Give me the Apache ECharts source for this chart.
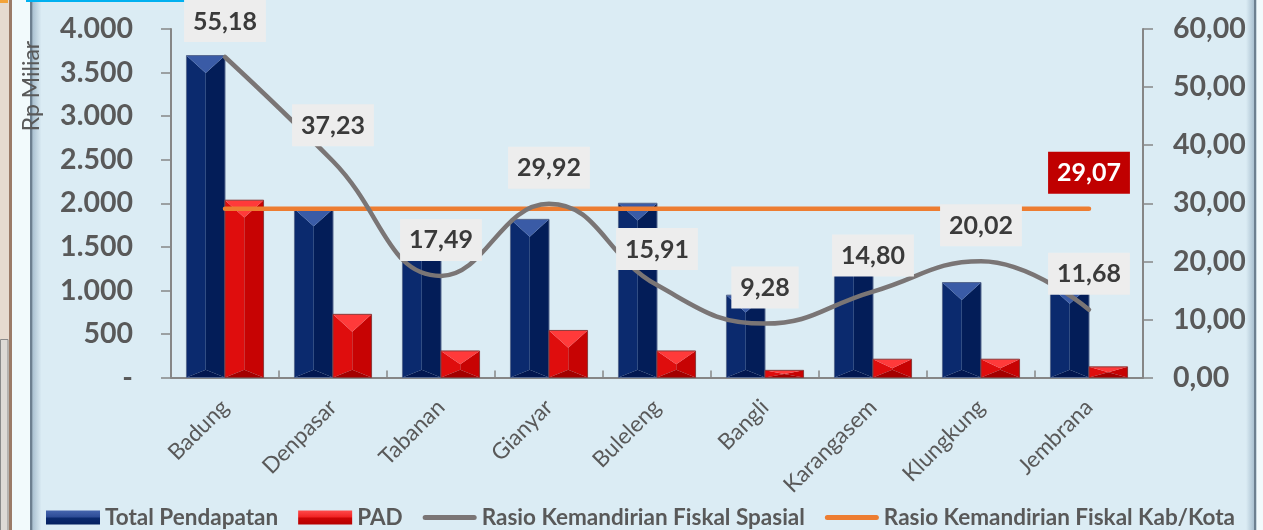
<!DOCTYPE html>
<html>
<head>
<meta charset="utf-8">
<script src="https://cdn.jsdelivr.net/npm/echarts@6/dist/echarts.min.js"></script>
<style>
  html, body { margin: 0; padding: 0; background: #dbecf4; }
  #chart { width: 1263px; height: 530px; }
</style>
</head>
<body>
<div id="chart"></div>
<script>
// Regencies / city of Bali
const categories = ['Badung', 'Denpasar', 'Tabanan', 'Gianyar', 'Buleleng', 'Bangli', 'Karangasem', 'Klungkung', 'Jembrana'];
// Rp Miliar (left axis)
const totalPendapatan = [3695, 1935, 1745, 1815, 2000, 945, 1420, 1090, 1045];
const pad = [2035, 725, 305, 540, 305, 82, 210, 210, 122];
// Percent (right axis)
const rasioSpasial = [55.18, 37.23, 17.49, 29.92, 15.91, 9.28, 14.80, 20.02, 11.68];
const rasioKabKota = [29.07, 29.07, 29.07, 29.07, 29.07, 29.07, 29.07, 29.07, 29.07];

const leftAxisMax = 4000, leftAxisStep = 500;
const rightAxisMax = 60, rightAxisStep = 10;

const FONT = 'Lato';
const AXIS_TEXT = '#595959';

const fmtThousands = v => v === 0 ? '-' : String(v).replace(/\B(?=(\d{3})+(?!\d))/g, '.');
const fmtComma = v => Number(v).toFixed(2).replace('.', ',');

// Bevelled column drawn from the category band of the x axis
function bevelBar(side, pal) {
  return function (params, api) {
    const i = api.value(0), v = api.value(1);
    const base = api.coord([i, 0]);
    const top = api.coord([i, v]);
    const band = api.size([1, 0])[0];
    const w = band * 0.357;
    const x0 = side < 0 ? base[0] - w : base[0];
    const x1 = x0 + w, xc = x0 + w / 2;
    const y0 = top[1], y1 = base[1];
    const h = y1 - y0;
    const dt = Math.min(w * 0.45, h * 0.5);
    const db = Math.min(w * 0.2, h - dt);
    const poly = (pts, fill) => ({ type: 'polygon', shape: { points: pts }, style: { fill: fill } });
    return {
      type: 'group',
      children: [
        poly([[x0, y0], [xc, y0 + dt], [xc, y1 - db], [x0, y1]], pal.left),
        poly([[x1, y0], [xc, y0 + dt], [xc, y1 - db], [x1, y1]], pal.right),
        poly([[x0, y0], [x1, y0], [xc, y0 + dt]], pal.top),
        poly([[x0, y1], [x1, y1], [xc, y1 - db]], pal.bottom),
        { type: 'rect', shape: { x: x0, y: y0, width: w, height: h },
          style: { fill: 'none', stroke: pal.edge, lineWidth: 1 } }
      ]
    };
  };
}

const bluePal = { top: '#3a5ba6', left: '#0b2a6e', right: '#031d58', bottom: '#021750', edge: '#56688e' };
const redPal = { top: '#ff3a3a', left: '#df0d0d', right: '#c70303', bottom: '#a30000', edge: '#8c3a3a' };

const gradV = (a, b, c, d) => new echarts.graphic.LinearGradient(0, 0, 0, 1, [
  { offset: 0, color: a }, { offset: 0.48, color: b }, { offset: 0.52, color: c }, { offset: 1, color: d }
]);

// thin rounded stroke used as the legend key of the two ratio lines
const lineKey = 'path://M2.5,0 L51.5,0 A2.5,2.5 0 0 1 51.5,5 L2.5,5 A2.5,2.5 0 0 1 2.5,0 Z';

const chart = echarts.init(document.getElementById('chart'), null, { renderer: 'canvas' });

const valueLabel = {
  show: true,
  position: 'top',
  distance: 15,
  formatter: p => fmtComma(p.value),
  fontFamily: FONT,
  fontWeight: 'bold',
  fontSize: 25,
  color: '#3a3a3a',
  backgroundColor: '#ededed',
  padding: [9, 9, 8, 9]
};

chart.setOption({
  backgroundColor: '#dbecf4',
  animation: false,
  textStyle: { fontFamily: FONT },
  grid: { left: 171, right: 120, top: 29, bottom: 152.5, containLabel: false },
  legend: {
    left: 46,
    top: 506,
    padding: 0,
    itemWidth: 54,
    itemHeight: 14,
    itemGap: 20,
    symbolKeepAspect: true,
    textStyle: { fontFamily: FONT, fontWeight: 'bold', fontSize: 22.5, color: AXIS_TEXT },
    data: [
      { name: 'Total Pendapatan', icon: 'rect' },
      { name: 'PAD', icon: 'rect' },
      { name: 'Rasio Kemandirian Fiskal Spasial', icon: lineKey },
      { name: 'Rasio Kemandirian Fiskal Kab/Kota', icon: lineKey }
    ]
  },
  xAxis: {
    type: 'category',
    data: categories,
    boundaryGap: true,
    axisLine: { lineStyle: { color: '#868686', width: 2 } },
    axisTick: { show: true, inside: true, length: 7, lineStyle: { color: '#868686', width: 1.5 } },
    axisLabel: { rotate: 45, margin: 26, fontFamily: FONT, fontSize: 22.5, color: AXIS_TEXT, interval: 0 }
  },
  yAxis: [
    {
      type: 'value', min: 0, max: leftAxisMax, interval: leftAxisStep,
      splitLine: { show: false },
      axisLine: { show: true, lineStyle: { color: '#868686', width: 2 } },
      axisTick: { show: true, length: 10, lineStyle: { color: '#868686', width: 1.5 } },
      axisLabel: { margin: 38, formatter: fmtThousands, fontFamily: FONT, fontWeight: 'bold', fontSize: 28.5, color: AXIS_TEXT }
    },
    {
      type: 'value', min: 0, max: rightAxisMax, interval: rightAxisStep, position: 'right',
      splitLine: { show: false },
      axisLine: { show: true, lineStyle: { color: '#868686', width: 2 } },
      axisTick: { show: true, length: 10, lineStyle: { color: '#868686', width: 1.5 } },
      axisLabel: { margin: 30, formatter: fmtComma, fontFamily: FONT, fontWeight: 'bold', fontSize: 28.5, color: AXIS_TEXT }
    }
  ],
  series: [
    {
      name: 'Total Pendapatan',
      type: 'custom',
      yAxisIndex: 0,
      z: 2,
      itemStyle: { color: gradV('#4565ae', '#2c4b95', '#0b2a6e', '#04205f') },
      encode: { x: 0, y: 1 },
      renderItem: bevelBar(-1, bluePal),
      data: totalPendapatan.map((v, i) => [i, v])
    },
    {
      name: 'PAD',
      type: 'custom',
      yAxisIndex: 0,
      z: 2,
      itemStyle: { color: gradV('#ff4a4a', '#f02222', '#cc0505', '#b50000') },
      encode: { x: 0, y: 1 },
      renderItem: bevelBar(1, redPal),
      data: pad.map((v, i) => [i, v])
    },
    {
      name: 'Rasio Kemandirian Fiskal Kab/Kota',
      type: 'line',
      yAxisIndex: 1,
      z: 4,
      symbol: 'circle',
      symbolSize: 0,
      showSymbol: true,
      itemStyle: { color: '#ed7d31' },
      lineStyle: { color: '#ed7d31', width: 4.5, cap: 'round' },
      data: rasioKabKota.map((v, i) => i === rasioKabKota.length - 1
        ? { value: v, label: Object.assign({}, valueLabel, { color: '#ffffff', backgroundColor: '#c00000' }) }
        : v)
    },
    {
      name: 'Rasio Kemandirian Fiskal Spasial',
      type: 'line',
      yAxisIndex: 1,
      z: 5,
      smooth: 0.45,
      symbol: 'circle',
      symbolSize: 0,
      showSymbol: true,
      itemStyle: { color: '#7a7575' },
      lineStyle: { color: '#7a7575', width: 4.5, cap: 'round' },
      label: valueLabel,
      data: rasioSpasial
    }
  ],
  graphic: [
    // window frame around the plot
    { type: 'rect', z: -1, shape: { x: 0, y: 0, width: 10, height: 530 }, style: { fill: '#e6dbd0' } },
    { type: 'rect', z: -1, shape: { x: 0, y: 0, width: 8, height: 3 }, style: { fill: '#f2a33a' } },
    { type: 'rect', z: -1, shape: { x: 0.5, y: 339.5, width: 7.5, height: 200 }, style: { fill: '#dedad6', stroke: '#8a8a8a', lineWidth: 1 } },
    { type: 'rect', z: -1, shape: { x: 9, y: 0, width: 3, height: 530 }, style: { fill: '#9b7b68' } },
    { type: 'rect', z: -1, shape: { x: 12, y: 0, width: 18, height: 530 }, style: { fill: '#f2fafc' } },
    { type: 'rect', z: -1, shape: { x: 30, y: 0, width: 2.5, height: 530 }, style: { fill: '#6d8090' } },
    { type: 'rect', z: -1, shape: { x: 32.5, y: 0, width: 9, height: 530 },
      style: { fill: new echarts.graphic.LinearGradient(0, 0, 1, 0, [
        { offset: 0, color: 'rgba(110,140,165,0.45)' }, { offset: 1, color: 'rgba(110,140,165,0)' }]) } },
    { type: 'rect', z: -1, shape: { x: 1246, y: 0, width: 8, height: 530 },
      style: { fill: new echarts.graphic.LinearGradient(0, 0, 1, 0, [
        { offset: 0, color: 'rgba(110,140,165,0)' }, { offset: 1, color: 'rgba(110,140,165,0.45)' }]) } },
    { type: 'rect', z: -1, shape: { x: 1254, y: 0, width: 2.5, height: 530 }, style: { fill: '#6d8090' } },
    { type: 'rect', z: -1, shape: { x: 1256.5, y: 0, width: 7, height: 530 }, style: { fill: '#f2fafc' } },
    { type: 'rect', z: -1, shape: { x: 26, y: 0, width: 160, height: 2 }, style: { fill: '#00b0f0' } },
    // left axis title
    { type: 'text', z: 10, x: 32, y: 86, rotation: Math.PI / 2,
      style: { text: 'Rp Miliar', fontFamily: FONT, fontSize: 23, fill: AXIS_TEXT, align: 'center', verticalAlign: 'middle' } }
  ]
});
</script>
</body>
</html>
